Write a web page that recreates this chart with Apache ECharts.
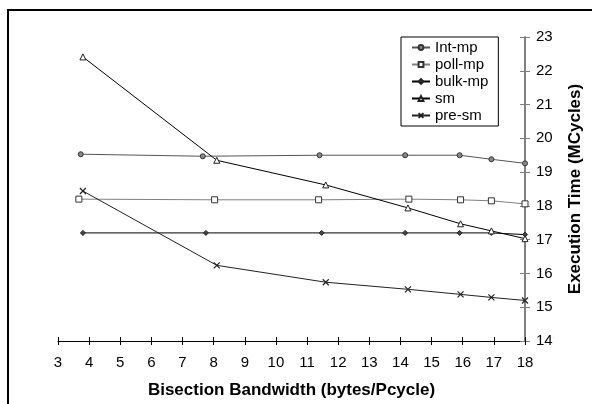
<!DOCTYPE html>
<html>
<head>
<meta charset="utf-8">
<script src="https://cdn.jsdelivr.net/npm/echarts@6/dist/echarts.min.js"></script>
<style>
  html, body { margin: 0; padding: 0; background: #fff; }
  #chart { width: 592px; height: 404px; }
</style>
</head>
<body>
<div id="chart"></div>
<script>
// Execution time vs. bisection bandwidth for five communication schemes
const seriesNames = ['Int-mp', 'poll-mp', 'bulk-mp', 'sm', 'pre-sm'];

const intMpX  = [3.73, 7.65, 11.4, 14.15, 15.9, 16.92, 18];
const intMpY  = [19.53, 19.47, 19.5, 19.5, 19.5, 19.38, 19.26];

const pollMpX = [3.67, 8.03, 11.37, 14.27, 15.93, 16.92, 18];
const pollMpY = [18.2, 18.18, 18.18, 18.2, 18.18, 18.15, 18.06];

const bulkMpX = [3.8, 7.75, 11.47, 14.15, 15.9, 16.92, 18];
const bulkMpY = [17.2, 17.2, 17.2, 17.2, 17.2, 17.2, 17.15];

const smX     = [3.8, 8.1, 11.6, 14.24, 15.93, 16.92, 18];
const smY     = [22.41, 19.35, 18.62, 17.94, 17.47, 17.26, 17.03];

const preSmX  = [3.8, 8.1, 11.6, 14.24, 15.93, 16.92, 18];
const preSmY  = [18.44, 16.24, 15.74, 15.53, 15.38, 15.29, 15.2];

const xTicks = [3, 18, 1];   // min, max, step
const yTicks = [14, 23, 1];

const pairs = (xs, ys) => xs.map((x, i) => [x, ys[i]]);

const FONT = 'Liberation Sans, Arial, sans-serif';
const crossSymbol = 'path://M0,0L10,10M10,0L0,10';

function lineSeries(name, data, color, symbol, size, itemStyle) {
  return {
    name: name,
    type: 'line',
    data: data,
    xAxisIndex: 0,
    yAxisIndex: 0,
    symbol: symbol,
    symbolSize: size,
    showAllSymbol: true,
    lineStyle: { color: color, width: 1 },
    itemStyle: itemStyle,
    emphasis: { disabled: true },
    animation: false,
    z: 3
  };
}

const chart = echarts.init(document.getElementById('chart'), null, { renderer: 'canvas' });

const option = {
  backgroundColor: '#fff',
  animation: false,
  textStyle: { fontFamily: FONT },
  graphic: [{
    type: 'rect',
    shape: { x: 8, y: 10, width: 800, height: 800 },
    style: { fill: 'none', stroke: '#000', lineWidth: 2 },
    silent: true
  }],
  grid: { left: 58, right: 63, top: 37, bottom: 61, containLabel: false },
  legend: {
    data: seriesNames,
    orient: 'vertical',
    left: 401,
    top: 37,
    itemWidth: 18,
    itemHeight: 6,
    itemGap: 0,
    padding: [2, 10, 2, 10],
    borderColor: '#000',
    borderWidth: 1,
    textStyle: { fontFamily: FONT, fontSize: 15, lineHeight: 17, color: '#000' },
    selectedMode: false
  },
  xAxis: [{
    type: 'value',
    min: xTicks[0], max: xTicks[1], interval: xTicks[2],
    position: 'bottom',
    name: 'Bisection Bandwidth (bytes/Pcycle)',
    nameLocation: 'middle',
    nameGap: 41,
    nameTextStyle: { fontFamily: FONT, fontSize: 17, fontWeight: 'bold', color: '#000' },
    axisLine: { show: true, onZero: false, lineStyle: { color: '#000', width: 1 } },
    axisTick: { show: true, inside: false, length: 4, lineStyle: { color: '#000' } },
    axisLabel: { margin: 14, fontFamily: FONT, fontSize: 15, color: '#000' },
    splitLine: { show: false }
  }, {
    type: 'value',
    min: xTicks[0], max: xTicks[1], interval: xTicks[2],
    position: 'bottom',
    axisLine: { show: false, onZero: false },
    axisTick: { show: true, inside: true, length: 4, lineStyle: { color: '#000' } },
    axisLabel: { show: false },
    splitLine: { show: false }
  }],
  yAxis: [{
    type: 'value',
    min: yTicks[0], max: yTicks[1], interval: yTicks[2],
    position: 'right',
    name: 'Execution Time (MCycles)',
    nameLocation: 'middle',
    nameGap: 42,
    nameRotate: 90,
    nameTextStyle: { fontFamily: FONT, fontSize: 17, fontWeight: 'bold', color: '#000' },
    axisLine: { show: true, onZero: false, lineStyle: { color: '#808080', width: 2 } },
    axisTick: { show: true, inside: false, length: 5, lineStyle: { color: '#808080' } },
    axisLabel: { margin: 11, fontFamily: FONT, fontSize: 15, color: '#000' },
    splitLine: { show: false }
  }, {
    type: 'value',
    min: yTicks[0], max: yTicks[1], interval: yTicks[2],
    position: 'right',
    axisLine: { show: false, onZero: false },
    axisTick: { show: true, inside: true, length: 5, lineStyle: { color: '#808080' } },
    axisLabel: { show: false },
    splitLine: { show: false }
  }],
  series: [
    lineSeries('Int-mp', pairs(intMpX, intMpY), '#555', 'circle', 5,
      { color: '#888', borderColor: '#333', borderWidth: 1 }),
    lineSeries('poll-mp', pairs(pollMpX, pollMpY), '#808080', 'rect', 6,
      { color: '#fff', borderColor: '#333', borderWidth: 1 }),
    lineSeries('bulk-mp', pairs(bulkMpX, bulkMpY), '#000', 'diamond', 5,
      { color: '#444', borderColor: '#222', borderWidth: 1 }),
    lineSeries('sm', pairs(smX, smY), '#000', 'triangle', 6,
      { color: '#fff', borderColor: '#222', borderWidth: 1 }),
    lineSeries('pre-sm', pairs(preSmX, preSmY), '#222', crossSymbol, 6,
      { color: 'none', borderColor: '#222', borderWidth: 1.2 })
  ]
};

chart.setOption(option);
</script>
</body>
</html>
